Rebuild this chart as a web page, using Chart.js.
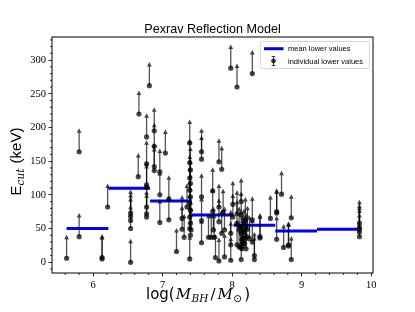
<!DOCTYPE html>
<html>
<head>
<meta charset="utf-8">
<script src="https://cdn.jsdelivr.net/npm/chart.js@4.4.1/dist/chart.umd.min.js"></script>
<style>
    html, body { margin: 0; padding: 0; background: #fff; }
    canvas { display: block; }
</style>
</head>
<body>
<canvas id="chart-pexrav" width="415" height="312"></canvas>
<script>
// ── Pexrav reflection model: E_cut lower limits vs black hole mass ──────────

// Individual sources, grouped roughly by mass bin (log M_BH/M_sun, keV)
var LOG_MBH = [
    5.62, 5.80, 5.80, 6.13, 6.13, 6.21,
    6.54, 6.54, 6.54, 6.54, 6.54, 6.65, 6.66, 6.77, 6.77, 6.77, 6.77, 6.77, 6.77, 6.77, 6.81,
    6.88, 6.88, 6.88, 6.88, 6.96, 6.96, 6.96, 7.04, 7.09, 7.09, 7.20, 7.28, 7.28, 7.31, 7.35,
    7.39, 7.39, 7.40, 7.39, 7.40, 7.39, 7.40, 7.39, 7.40, 7.39, 7.40, 7.39, 7.41, 7.40, 7.39,
    7.56, 7.56, 7.56, 7.56, 7.56, 7.66, 7.70, 7.74, 7.72, 7.72, 7.73, 7.76, 7.81, 7.81, 7.81,
    7.81, 7.85, 7.85, 7.87, 7.89, 7.89, 7.98, 7.98, 7.98, 7.98, 8.01, 8.01,
    8.07, 8.07, 8.07, 8.07, 8.10, 8.10, 8.13, 8.13, 8.13, 8.13, 8.14, 8.15, 8.16, 8.15, 8.19,
    8.19, 8.20, 8.21, 8.17, 8.22, 8.25, 8.29, 8.29, 8.29, 8.32, 8.32, 8.40, 8.40, 8.55, 8.12, 8.18,
    8.64, 8.64, 8.64, 8.71, 8.74, 8.81, 8.81, 8.85, 8.85,
    9.83, 9.83, 9.83, 9.83, 9.83
];
var ECUT_LOWER = [
    6, 164, 38, 5, 7, 82,
    0, 50, 62, 68, 73, 127, 220, 186, 146, 115, 111, 82, 72, 67, 262,
    195, 172, 142, 136, 134, 100, 59, 162, 94, 63, 16, 65, 49, 37, 82,
    177, 148, 137, 125, 117, 107, 97, 87, 77, 67, 58, 50, 48, 40, 5,
    164, 153, 97, 62, 29, 37, 37, 37, 75, 106, 48, 7, 149, 82, 60,
    2, 138, 43, 74, 48, 8, 288, 26, 3, 43, 86, 67,
    260, 72, 58, 26, 48, 23, 90, 70, 43, 4, 20, 30, 25, 35, 62,
    35, 20, 38, 45, 49, 35, 280, 63, 30, 4, 10, 38, 36, 65, 22, 28,
    75, 73, 34, 101, 22, 26, 24, 66, 4,
    38, 45, 49, 52, 58
];

// Mean lower value per mass bin
var BIN_EDGES  = [5.62, 6.22, 6.82, 7.42, 8.02, 8.62, 9.22, 9.82];
var MEAN_ECUT  = [50, 110, 91, 70, 55, 46.5, 49];

var X_TICKS = [6, 7, 8, 9, 10];
var Y_TICKS = [0, 50, 100, 150, 200, 250, 300];

var ARROW_LEN = 29; // keV, length of the lower-limit arrow shaft

(function () {
    var canvas = document.getElementById('chart-pexrav');

    var points = LOG_MBH.map(function (m, i) {
        return { x: m, y: ECUT_LOWER[i] };
    });

    // one line dataset, broken between bins with null points
    var meanSegments = [];
    MEAN_ECUT.forEach(function (v, i) {
        meanSegments.push({ x: BIN_EDGES[i], y: v });
        meanSegments.push({ x: BIN_EDGES[i + 1], y: v });
        meanSegments.push({ x: BIN_EDGES[i + 1], y: null });
    });

    var SANS  = '"Liberation Sans", Arial, sans-serif';
    var DSANS = '"DejaVu Sans", sans-serif';
    var SERIF = '"DejaVu Serif", serif';

    // draw a row of text pieces centred on x: [text, font, dy, extraAdvance]
    function drawRich(ctx, parts, x, y) {
        var total = 0;
        parts.forEach(function (p) {
            ctx.font = p[1];
            total += ctx.measureText(p[0]).width + (p[3] || 0);
        });
        var cx = x - total / 2;
        parts.forEach(function (p) {
            ctx.font = p[1];
            ctx.fillText(p[0], cx, y + (p[2] || 0));
            cx += ctx.measureText(p[0]).width + (p[3] || 0);
        });
    }

    // Arrows for lower limits: drawn after the mean line, under the markers
    var lowerLimitArrows = {
        id: 'lowerLimitArrows',
        afterDatasetDraw: function (chart, args) {
            if (args.index !== 0) return;
            var ctx = chart.ctx, xs = chart.scales.x, ys = chart.scales.y, a = chart.chartArea;
            ctx.save();
            ctx.beginPath();
            ctx.rect(a.left, a.top, a.right - a.left, a.bottom - a.top);
            ctx.clip();
            ctx.strokeStyle = 'rgba(0, 0, 0, 0.68)';
            ctx.fillStyle   = 'rgba(0, 0, 0, 0.72)';
            ctx.lineWidth   = 1.3;
            LOG_MBH.forEach(function (m, i) {
                var px = xs.getPixelForValue(m);
                var y0 = ys.getPixelForValue(ECUT_LOWER[i]);
                var y1 = ys.getPixelForValue(ECUT_LOWER[i] + ARROW_LEN);
                ctx.beginPath();
                ctx.moveTo(px, y0);
                ctx.lineTo(px, y1);
                ctx.stroke();
                ctx.beginPath();
                ctx.moveTo(px - 2.4, y1 + 0.5);
                ctx.lineTo(px + 2.4, y1 + 0.5);
                ctx.lineTo(px, y1 - 4);
                ctx.closePath();
                ctx.fill();
            });
            ctx.restore();
        }
    };

    // Frame, minor ticks, title, axis titles and the legend box
    var decorations = {
        id: 'decorations',
        afterDraw: function (chart) {
            var ctx = chart.ctx, xs = chart.scales.x, ys = chart.scales.y, a = chart.chartArea;
            ctx.save();

            ctx.strokeStyle = '#000';
            ctx.lineWidth = 1;
            ctx.strokeRect(a.left, a.top, a.right - a.left, a.bottom - a.top);

            // minor ticks (matplotlib AutoMinorLocator style)
            ctx.lineWidth = 0.8;
            ctx.beginPath();
            for (var v = 5.6; v < 10.03; v += 0.2) {
                var r = Math.round(v * 10) / 10;
                if (Math.abs(r - Math.round(r)) < 1e-6) continue;
                var px = xs.getPixelForValue(r);
                if (px < a.left || px > a.right) continue;
                ctx.moveTo(px, a.bottom);
                ctx.lineTo(px, a.bottom + 2);
            }
            for (var w = -10; w <= 330; w += 10) {
                if (w % 50 === 0) continue;
                var py = ys.getPixelForValue(w);
                ctx.moveTo(a.left, py);
                ctx.lineTo(a.left - 2, py);
            }
            ctx.stroke();

            ctx.fillStyle = '#000';
            ctx.textAlign = 'center';
            ctx.textBaseline = 'alphabetic';
            ctx.font = '12.6px ' + SANS;
            ctx.fillText('Pexrav Reflection Model', (a.left + a.right) / 2, 33);

            ctx.textAlign = 'left';
            drawRich(ctx, [
                ['log(', '15px ' + DSANS, 0, 1],
                ['M', 'italic 15px ' + SERIF, 0, 0.5],
                ['BH', 'italic 10.5px ' + SERIF, 3, 2],
                ['/', '15px ' + SERIF, 0, 2],
                ['M', 'italic 15px ' + SERIF, 0, 0.5],
                ['\u2299', '10.5px ' + DSANS, 3, 2],
                [')', '15px ' + DSANS, 0, 0]
            ], 198, 299);

            ctx.save();
            ctx.translate(20.5, 161.5);
            ctx.rotate(-Math.PI / 2);
            drawRich(ctx, [
                ['E', '15px ' + SANS, 0, 0],
                ['cut', 'italic 10.5px ' + SERIF, 3, 1],
                [' (keV)', '15px ' + SANS, 0, 0]
            ], 0, 0);
            ctx.restore();

            // legend
            var lx = 260.5, ly = 41.5, lw = 109, lh = 27;
            ctx.beginPath();
            if (ctx.roundRect) ctx.roundRect(lx, ly, lw, lh, 2);
            else ctx.rect(lx, ly, lw, lh);
            ctx.fillStyle = 'rgba(255, 255, 255, 0.8)';
            ctx.fill();
            ctx.strokeStyle = '#cccccc';
            ctx.lineWidth = 0.8;
            ctx.stroke();

            ctx.strokeStyle = '#0000ff';
            ctx.lineWidth = 3;
            ctx.beginPath();
            ctx.moveTo(264, 48.7);
            ctx.lineTo(283.5, 48.7);
            ctx.stroke();

            var ex = 273.5, ey = 61;
            ctx.strokeStyle = 'rgba(0, 0, 0, 0.75)';
            ctx.lineWidth = 1;
            ctx.beginPath();
            ctx.moveTo(ex, ey - 4.5); ctx.lineTo(ex, ey + 4.5);
            ctx.moveTo(ex - 1.8, ey - 4.5); ctx.lineTo(ex + 1.8, ey - 4.5);
            ctx.moveTo(ex - 1.8, ey + 4.5); ctx.lineTo(ex + 1.8, ey + 4.5);
            ctx.stroke();
            ctx.fillStyle = 'rgba(0, 0, 0, 0.75)';
            ctx.beginPath();
            ctx.arc(ex, ey, 2.4, 0, Math.PI * 2);
            ctx.fill();

            ctx.fillStyle = '#000';
            ctx.font = '7.5px ' + SANS;
            ctx.textBaseline = 'middle';
            ctx.fillText('mean lower values', 288, 49);
            ctx.fillText('individual lower values', 288, 61.5);

            ctx.restore();
        }
    };

    var tickFont = { family: '"Liberation Serif", "DejaVu Serif", serif', size: 10.5 };

    new Chart(canvas, {
        type: 'scatter',
        data: {
            datasets: [
                {
                    label: 'mean lower values',
                    data: meanSegments,
                    showLine: true,
                    spanGaps: false,
                    borderColor: '#0000ff',
                    borderWidth: 3,
                    pointRadius: 0,
                    fill: false,
                    order: 2
                },
                {
                    label: 'individual lower values',
                    data: points,
                    backgroundColor: 'rgba(0, 0, 0, 0.72)',
                    borderWidth: 0,
                    pointRadius: 2.6,
                    order: 1
                }
            ]
        },
        options: {
            responsive: false,
            animation: false,
            events: [],
            layout: { padding: { left: 12, right: 42, top: 37, bottom: 0 } },
            plugins: {
                legend: { display: false },
                tooltip: { enabled: false },
                title: { display: false }
            },
            scales: {
                x: {
                    type: 'linear',
                    min: 5.41,
                    max: 10.025,
                    afterFit: function (scale) { scale.height = 39; },
                    afterBuildTicks: function (scale) {
                        scale.ticks = X_TICKS.map(function (v) { return { value: v }; });
                    },
                    border: { display: false },
                    grid: {
                        drawOnChartArea: false,
                        tickLength: 3.5,
                        tickColor: '#000',
                        tickWidth: 0.8
                    },
                    ticks: {
                        color: '#000',
                        font: tickFont,
                        padding: 2,
                        maxRotation: 0,
                        callback: function (v) { return String(v); }
                    }
                },
                y: {
                    type: 'linear',
                    min: -15.9,
                    max: 334.2,
                    afterFit: function (scale) { scale.width = 40; },
                    afterBuildTicks: function (scale) {
                        scale.ticks = Y_TICKS.map(function (v) { return { value: v }; });
                    },
                    border: { display: false },
                    grid: {
                        drawOnChartArea: false,
                        tickLength: 3.5,
                        tickColor: '#000',
                        tickWidth: 0.8
                    },
                    ticks: {
                        color: '#000',
                        font: tickFont,
                        padding: 2.5,
                        callback: function (v) { return String(v); }
                    }
                }
            }
        },
        plugins: [lowerLimitArrows, decorations]
    });
}());
</script>
</body>
</html>
